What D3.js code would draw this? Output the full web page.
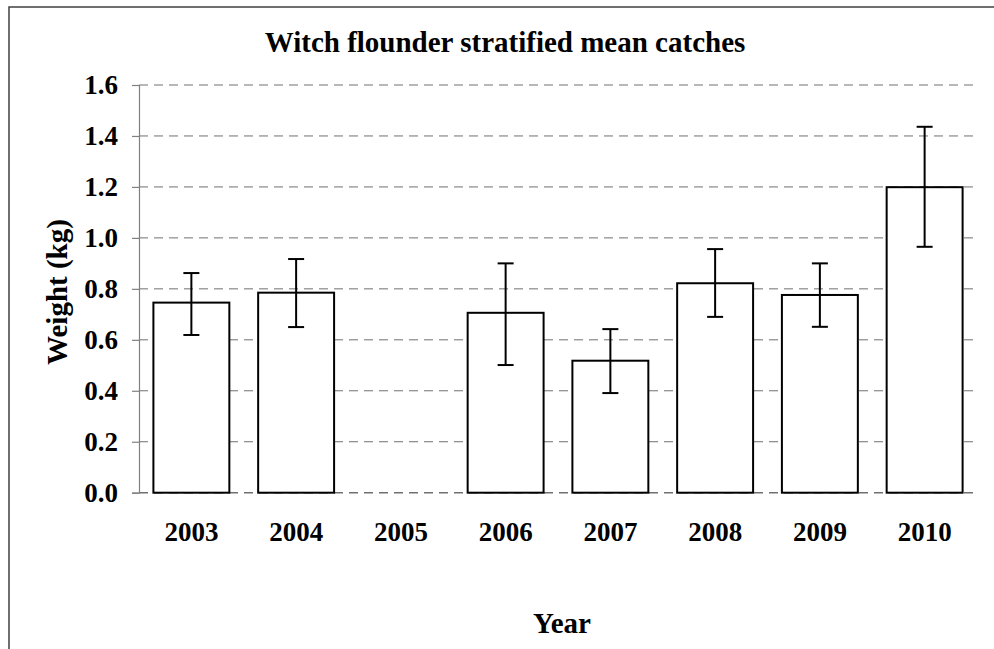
<!DOCTYPE html>
<html>
<head>
<meta charset="utf-8">
<script src="https://cdn.jsdelivr.net/npm/d3@7"></script>
<style>
  body { margin: 0; background: #fff; }
  text { font-family: "Liberation Serif", "Times New Roman", serif; font-weight: bold; }
</style>
</head>
<body>
<svg id="chart"></svg>
<script>
const years = ["2003", "2004", "2005", "2006", "2007", "2008", "2009", "2010"];
const means = [0.746, 0.785, null, 0.706, 0.518, 0.822, 0.776, 1.199];
const upper = [0.862, 0.917, null, 0.900, 0.642, 0.956, 0.900, 1.436];
const lower = [0.619, 0.650, null, 0.501, 0.391, 0.690, 0.651, 0.965];
const yTicks = [0, 0.2, 0.4, 0.6, 0.8, 1.0, 1.2, 1.4, 1.6];

const data = years.map((y, i) => ({ year: y, mean: means[i], hi: upper[i], lo: lower[i] }));

const width = 994;
const height = 649;
const plotLeft = 139;
const plotRight = 977;
const plotTop = 85;
const plotBottom = 492.7;

const svg = d3.select("#chart").attr("width", width).attr("height", height);

// outer frame (runs off the right and bottom edges)
svg
  .append("rect")
  .attr("x", 9)
  .attr("y", 7)
  .attr("width", 1000)
  .attr("height", 700)
  .attr("fill", "none")
  .attr("stroke", "#404040")
  .attr("stroke-width", 1.5);

const xScale = d3
  .scaleBand()
  .domain(years)
  .range([plotLeft, plotRight])
  .paddingInner(0.275)
  .paddingOuter(0.1375);

const yScale = d3.scaleLinear().domain([0, 1.6]).range([plotBottom, plotTop]);

// dashed gridlines
svg
  .append("g")
  .selectAll("line")
  .data(yTicks)
  .enter()
  .append("line")
  .attr("x1", plotLeft)
  .attr("x2", plotRight)
  .attr("y1", (d) => yScale(d))
  .attr("y2", (d) => yScale(d))
  .attr("stroke", "#707070")
  .attr("stroke-width", (d) => (d === 0 ? 1.6 : 1))
  .attr("stroke-dasharray", "9,6");

const yAxis = d3
  .axisLeft(yScale)
  .tickValues(yTicks)
  .tickFormat(d3.format(".1f"))
  .tickSize(7)
  .tickPadding(14);

const gy = svg
  .append("g")
  .attr("transform", `translate(${plotLeft}, 0)`)
  .call(yAxis);
gy.select(".domain").attr("stroke", "#808080").attr("stroke-width", 1.2);
gy.selectAll(".tick line").attr("stroke", "#808080").attr("stroke-width", 1.2);
gy.selectAll("text").attr("font-size", 27).attr("font-family", null).attr("fill", "#000");

const xAxis = d3.axisBottom(xScale).tickSize(0).tickPadding(29);
const gx = svg
  .append("g")
  .attr("transform", `translate(0, ${plotBottom})`)
  .call(xAxis);
gx.select(".domain").remove();
gx.selectAll("text").attr("font-size", 27).attr("font-family", null).attr("fill", "#000");

const present = data.filter((d) => d.mean !== null);

svg
  .selectAll(".bar")
  .data(present)
  .enter()
  .append("rect")
  .attr("class", "bar")
  .attr("x", (d) => xScale(d.year))
  .attr("y", (d) => yScale(d.mean))
  .attr("width", xScale.bandwidth())
  .attr("height", (d) => yScale(0) - yScale(d.mean))
  .attr("fill", "#fff")
  .attr("stroke", "#000")
  .attr("stroke-width", 2);

const err = svg.append("g").attr("stroke", "#000").attr("stroke-width", 2);
const cx = (d) => xScale(d.year) + xScale.bandwidth() / 2;

err
  .selectAll(".stem")
  .data(present)
  .enter()
  .append("line")
  .attr("x1", cx)
  .attr("x2", cx)
  .attr("y1", (d) => yScale(d.hi))
  .attr("y2", (d) => yScale(d.lo));

["hi", "lo"].forEach((k) => {
  err
    .selectAll(".cap-" + k)
    .data(present)
    .enter()
    .append("line")
    .attr("x1", (d) => cx(d) - 8)
    .attr("x2", (d) => cx(d) + 8)
    .attr("y1", (d) => yScale(d[k]))
    .attr("y2", (d) => yScale(d[k]));
});

svg
  .append("text")
  .attr("x", 505)
  .attr("y", 52)
  .attr("text-anchor", "middle")
  .attr("font-size", 29)
  .text("Witch flounder stratified mean catches");

svg
  .append("text")
  .attr("x", 562)
  .attr("y", 633)
  .attr("text-anchor", "middle")
  .attr("font-size", 29)
  .text("Year");

svg
  .append("text")
  .attr("transform", "translate(67, 292) rotate(-90)")
  .attr("text-anchor", "middle")
  .attr("font-size", 29)
  .text("Weight (kg)");
</script>
</body>
</html>
